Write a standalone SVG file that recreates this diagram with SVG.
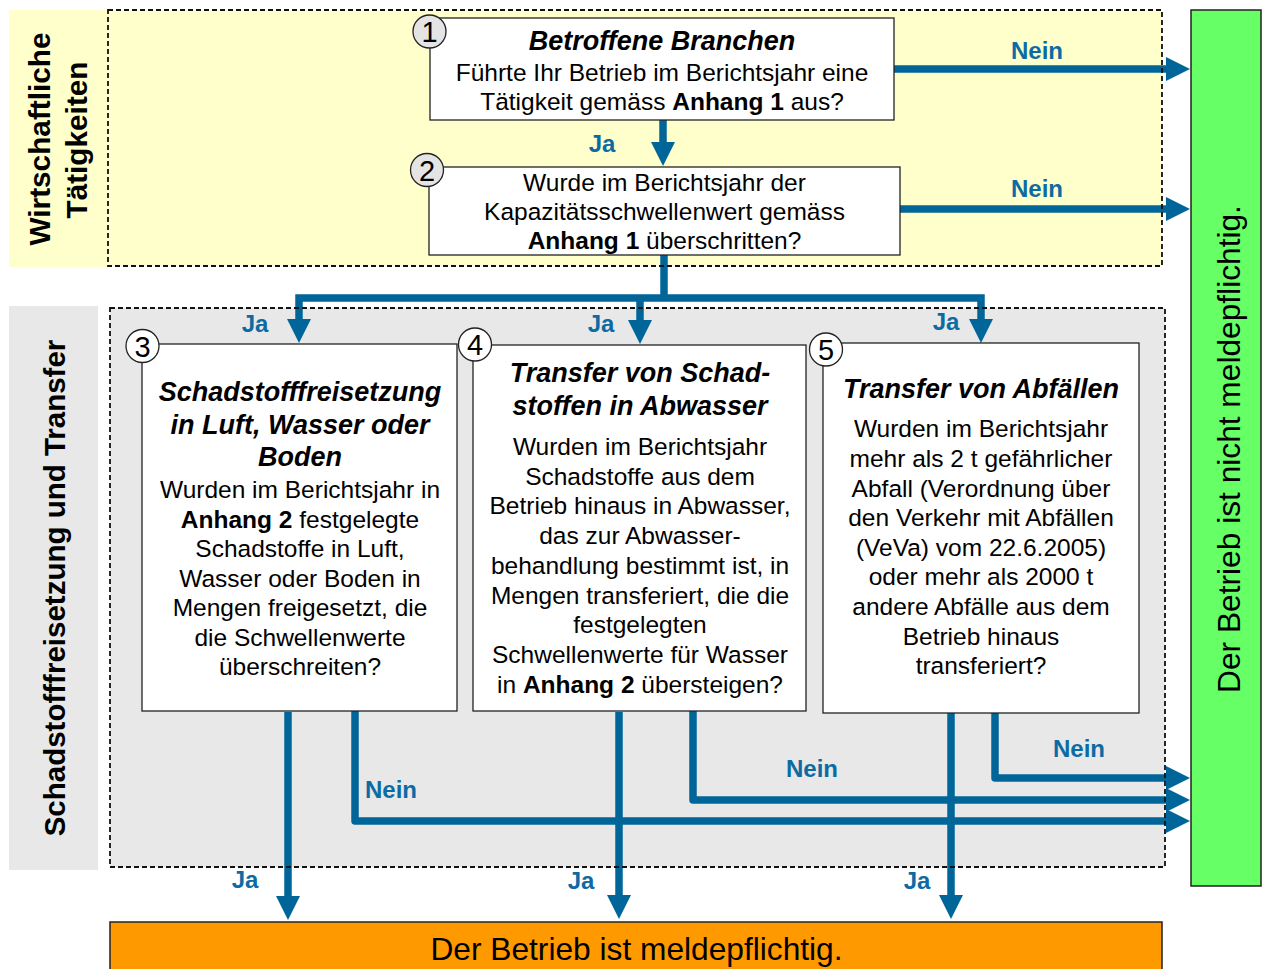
<svg xmlns="http://www.w3.org/2000/svg" width="1268" height="969" viewBox="0 0 1268 969">
<style>
text{font-family:"Liberation Sans",Arial,sans-serif;fill:#000}
.box{fill:#fff;stroke:#222;stroke-width:1.3}
.num{fill:#fff;stroke:#222;stroke-width:1.3}
.numg{fill:#e4e4e4;stroke:#222;stroke-width:1.3}
.nt{font-size:29px;text-anchor:middle}
.ti{font-size:27px;font-weight:bold;font-style:italic;text-anchor:middle}
.bd{font-size:24.5px;text-anchor:middle}
.lbl{font-size:24px;font-weight:bold;fill:#0d6ba3;text-anchor:middle}
.side{font-size:29.5px;font-weight:bold;text-anchor:middle}
.dash{fill:none;stroke:#111;stroke-width:1.8;stroke-dasharray:5,3}
.c{fill:none;stroke:#006699;stroke-width:7.5}
.cr{fill:none;stroke:#006699;stroke-width:7.5;stroke-linecap:round;stroke-linejoin:round}
b{font-weight:bold}
</style>
<defs>
<marker id="ah" markerUnits="userSpaceOnUse" markerWidth="24" markerHeight="24" viewBox="0 0 24 24" refX="1" refY="12" orient="auto-start-reverse">
<path d="M0,0 L24,12 L0,24 z" fill="#006699"/>
</marker>
</defs>

<g id="section-top">
<rect x="9" y="10" width="98" height="257" fill="#ffffcc"/>
<rect x="108" y="10" width="1054" height="256" fill="#ffffcc"/>
<text class="side" transform="translate(50,139) rotate(-90)" font-size="27" textLength="213" lengthAdjust="spacingAndGlyphs">Wirtschaftliche</text>
<text class="side" transform="translate(87,140) rotate(-90)" font-size="27" textLength="157" lengthAdjust="spacingAndGlyphs">Tätigkeiten</text>
</g>

<g id="section-bottom">
<rect x="9" y="306" width="89" height="564" fill="#e8e8e8"/>
<rect x="110" y="308" width="1055" height="559" fill="#e8e8e8"/>
<text class="side" transform="translate(65,588) rotate(-90)">Schadstofffreisetzung und Transfer</text>
</g>

<g id="connectors">
<path class="c" d="M663,120 V143" marker-end="url(#ah)"/>
<path class="c" d="M894,69 H1167" marker-end="url(#ah)"/>
<path class="c" d="M900,209 H1167" marker-end="url(#ah)"/>
<path class="c" d="M664,255 V298"/>
<path class="c" d="M299,320 V298 H981 V320" marker-start="url(#ah)" marker-end="url(#ah)"/>
<path class="c" d="M640,298 V321" marker-end="url(#ah)"/>
<path class="cr" d="M355,711 V821 H1167" marker-end="url(#ah)"/>
<path class="cr" d="M693,711 V800 H1167" marker-end="url(#ah)"/>
<path class="cr" d="M995,711 V778 H1167" marker-end="url(#ah)"/>
<path class="c" d="M288,712 V897" marker-end="url(#ah)"/>
<path class="c" d="M619,712 V896" marker-end="url(#ah)"/>
<path class="c" d="M951,712 V896" marker-end="url(#ah)"/>
<text class="lbl" x="602" y="152">Ja</text>
<text class="lbl" x="1037" y="59">Nein</text>
<text class="lbl" x="1037" y="197">Nein</text>
<text class="lbl" x="255" y="332">Ja</text>
<text class="lbl" x="601" y="332">Ja</text>
<text class="lbl" x="946" y="330">Ja</text>
<text class="lbl" x="391" y="798">Nein</text>
<text class="lbl" x="812" y="777">Nein</text>
<text class="lbl" x="1079" y="757">Nein</text>
<text class="lbl" x="245" y="888">Ja</text>
<text class="lbl" x="581" y="889">Ja</text>
<text class="lbl" x="917" y="889">Ja</text>
</g>

<g id="borders">
<rect class="dash" x="108" y="10" width="1054" height="256"/>
<rect class="dash" x="110" y="308" width="1055" height="559"/>
</g>

<g id="node1">
<rect class="box" x="430" y="18" width="464" height="102"/>
<circle class="numg" cx="429.5" cy="31.5" r="16.5"/>
<text class="nt" x="429.5" y="42">1</text>
<text class="ti" x="662" y="50" font-size="29">Betroffene Branchen</text>
<text class="bd" x="662" y="81">Führte Ihr Betrieb im Berichtsjahr eine</text>
<text class="bd" x="662" y="110">Tätigkeit gemäss <tspan font-weight="bold">Anhang 1</tspan> aus?</text>
</g>

<g id="node2">
<rect class="box" x="429" y="167" width="471" height="88"/>
<circle class="numg" cx="427" cy="170" r="16.5"/>
<text class="nt" x="427" y="180.5">2</text>
<text class="bd" x="664.5" y="190.5">Wurde im Berichtsjahr der</text>
<text class="bd" x="664.5" y="219.5">Kapazitätsschwellenwert gemäss</text>
<text class="bd" x="664.5" y="248.5"><tspan font-weight="bold">Anhang 1</tspan> überschritten?</text>
</g>

<g id="node3">
<rect class="box" x="142" y="344" width="315" height="367"/>
<circle class="num" cx="142.5" cy="346" r="16.5"/>
<text class="nt" x="142.5" y="356.5">3</text>
<text class="ti" x="300" y="401">Schadstofffreisetzung</text>
<text class="ti" x="300" y="433.5">in Luft, Wasser oder</text>
<text class="ti" x="300" y="466">Boden</text>
<text class="bd" x="300" y="498">Wurden im Berichtsjahr in</text>
<text class="bd" x="300" y="527.5"><tspan font-weight="bold">Anhang 2</tspan> festgelegte</text>
<text class="bd" x="300" y="557">Schadstoffe in Luft,</text>
<text class="bd" x="300" y="586.5">Wasser oder Boden in</text>
<text class="bd" x="300" y="616">Mengen freigesetzt, die</text>
<text class="bd" x="300" y="645.5">die Schwellenwerte</text>
<text class="bd" x="300" y="675">überschreiten?</text>
</g>

<g id="node4">
<rect class="box" x="473" y="345" width="333" height="366"/>
<circle class="num" cx="475" cy="344.5" r="16.5"/>
<text class="nt" x="475" y="355">4</text>
<text class="ti" x="640" y="382">Transfer von Schad-</text>
<text class="ti" x="640" y="415">stoffen in Abwasser</text>
<text class="bd" x="640" y="455">Wurden im Berichtsjahr</text>
<text class="bd" x="640" y="484.7">Schadstoffe aus dem</text>
<text class="bd" x="640" y="514.4">Betrieb hinaus in Abwasser,</text>
<text class="bd" x="640" y="544.1">das zur Abwasser-</text>
<text class="bd" x="640" y="573.8">behandlung bestimmt ist, in</text>
<text class="bd" x="640" y="603.5">Mengen transferiert, die die</text>
<text class="bd" x="640" y="633.2">festgelegten</text>
<text class="bd" x="640" y="662.9">Schwellenwerte für Wasser</text>
<text class="bd" x="640" y="692.6">in <tspan font-weight="bold">Anhang 2</tspan> übersteigen?</text>
</g>

<g id="node5">
<rect class="box" x="823" y="343" width="316" height="370"/>
<circle class="num" cx="826" cy="349.5" r="16.5"/>
<text class="nt" x="826" y="360">5</text>
<text class="ti" x="981" y="398">Transfer von Abfällen</text>
<text class="bd" x="981" y="437.3">Wurden im Berichtsjahr</text>
<text class="bd" x="981" y="467">mehr als 2 t gefährlicher</text>
<text class="bd" x="981" y="496.6">Abfall (Verordnung über</text>
<text class="bd" x="981" y="526.2">den Verkehr mit Abfällen</text>
<text class="bd" x="981" y="555.8">(VeVa) vom 22.6.2005)</text>
<text class="bd" x="981" y="585.4">oder mehr als 2000 t</text>
<text class="bd" x="981" y="615">andere Abfälle aus dem</text>
<text class="bd" x="981" y="644.6">Betrieb hinaus</text>
<text class="bd" x="981" y="674.2">transferiert?</text>
</g>

<g id="node-nicht">
<rect x="1191" y="10" width="70" height="876" fill="#66ff66" stroke="#222" stroke-width="1.5"/>
<text transform="translate(1240,449) rotate(-90)" font-size="31.7" text-anchor="middle">Der Betrieb ist nicht meldepflichtig.</text>
</g>

<g id="node-melde">
<rect x="110" y="922" width="1052" height="52" fill="#ff9900" stroke="#222" stroke-width="1.5"/>
<text x="636.5" y="960" font-size="31.7" text-anchor="middle">Der Betrieb ist meldepflichtig.</text>
</g>
</svg>
